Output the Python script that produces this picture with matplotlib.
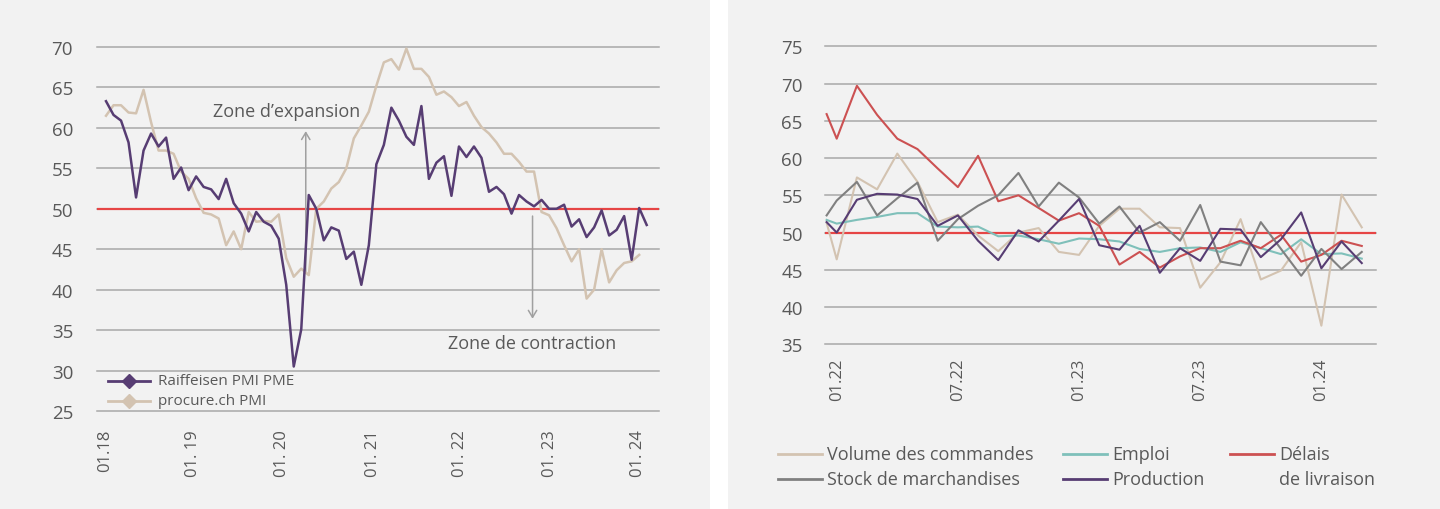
import matplotlib.pyplot as plt
from matplotlib.lines import Line2D
from matplotlib.patches import Rectangle

plt.rcParams["font.family"] = ["Open Sans", "DejaVu Sans"]

W, H = 1440, 510

# left panel: monthly PMI, index 0 = 01.2018
pmi_raiffeisen = [
    63.3, 61.6, 60.9, 58.2, 51.4, 57.2, 59.3, 57.7, 58.8, 53.7,
    55.1, 52.3, 54.0, 52.7, 52.4, 51.2, 53.7, 50.7, 49.4, 47.2,
    49.6, 48.4, 47.9, 46.3, 40.6, 30.5, 35.1, 51.7, 50.0, 46.1,
    47.7, 47.3, 43.8, 44.7, 40.6, 45.5, 55.5, 57.9, 62.5, 60.9,
    58.9, 57.9, 62.7, 53.7, 55.7, 56.5, 51.6, 57.7, 56.4, 57.7,
    56.3, 52.1, 52.7, 51.8, 49.4, 51.7, 50.9, 50.3, 51.1, 50.0,
    50.0, 50.5, 47.8, 48.7, 46.5, 47.7, 49.8, 46.7, 47.4, 49.1,
    43.7, 50.1, 48.0,
]
pmi_procure = [
    61.5, 62.8, 62.8, 61.9, 61.8, 64.7, 60.7, 57.2, 57.2, 56.8,
    54.6, 53.7, 51.3, 49.5, 49.3, 48.8, 45.5, 47.2, 45.0, 49.6,
    48.4, 48.5, 48.4, 49.3, 43.9, 41.6, 42.6, 41.8, 50.0, 50.9,
    52.5, 53.3, 55.0, 58.7, 60.3, 62.0, 65.2, 68.1, 68.5, 67.2,
    69.8, 67.3, 67.3, 66.3, 64.1, 64.5, 63.8, 62.7, 63.2, 61.5,
    60.1, 59.3, 58.2, 56.8, 56.8, 55.8, 54.6, 54.6, 49.6, 49.2,
    47.6, 45.5, 43.5, 45.0, 38.9, 40.0, 45.0, 40.9, 42.4, 43.3,
    43.5, 44.3,
]
left_tick_labels = ["01.18", "01. 19", "01. 20", "01. 21", "01. 22", "01. 23", "01. 24"]
left_tick_pos = [-0.1, 11.6, 23.5, 35.6, 47.1, 59.1, 70.9]

# right panel: sub-indices, index 0 = 01.2022
sub_months = [-0.5] + list(range(27))
volume = [51.3, 46.4, 57.4, 55.8, 60.6, 56.8, 51.4, 52.4, 49.6, 47.5, 50.0, 50.6, 47.4, 47.0,
          50.9, 53.2, 53.2, 50.7, 50.6, 42.6, 46.0, 51.8, 43.7, 44.9, 48.7, 37.5, 55.1, 50.7]
emploi = [51.7, 51.2, 51.7, 52.1, 52.6, 52.6, 50.8, 50.7, 50.8, 49.5, 49.6, 49.1, 48.5, 49.2,
          49.1, 48.8, 47.8, 47.4, 47.9, 48.0, 47.4, 48.7, 47.9, 47.1, 49.1, 47.1, 47.2, 46.5]
delais = [65.9, 62.6, 69.7, 65.8, 62.6, 61.2, 58.6, 56.1, 60.3, 54.2, 55.0, 53.3, 51.6, 52.6,
          50.9, 45.7, 47.4, 45.3, 46.8, 47.9, 47.9, 48.9, 47.9, 49.7, 46.1, 47.0, 48.9, 48.2]
stock = [52.3, 54.3, 56.8, 52.3, 54.6, 56.7, 48.9, 51.8, 53.6, 55.0, 58.0, 53.5, 56.7, 54.7,
         51.2, 53.5, 50.0, 51.4, 48.9, 53.7, 46.1, 45.6, 51.4, 47.8, 44.2, 47.8, 45.1, 47.4]
production = [51.4, 50.0, 54.4, 55.2, 55.1, 54.5, 50.9, 52.3, 48.9, 46.3, 50.3, 48.8, 51.6, 54.5,
              48.3, 47.7, 50.9, 44.6, 47.9, 46.2, 50.5, 50.4, 46.7, 49.1, 52.7, 45.2, 48.8, 45.9]
right_tick_labels = ["01.22", "07.22", "01.23", "07.23", "01.24"]
right_tick_pos = [0, 6, 12, 18, 24]

TEXT = "#595959"
GRID = "#a8a8a8"
BG = "#f2f2f2"
RED = "#e64545"
PURPLE = "#573d73"
TAN = "#d3c3b1"
TEAL = "#7fc0ba"
GREY = "#808080"
DRED = "#cc5152"

fig = plt.figure(figsize=(W / 100, H / 100), dpi=100, facecolor="white")
for x0, x1 in [(0, 710), (728, W)]:
    fig.patches.append(Rectangle((x0 / W, 0), (x1 - x0) / W, 1, transform=fig.transFigure,
                                 facecolor=BG, edgecolor="none", zorder=-10))


def setup(ax, ylo, yhi, ypad, xpad):
    ax.set_facecolor("none")
    for s in ax.spines.values():
        s.set_visible(False)
    ax.set_ylim(ylo, yhi)
    ax.set_yticks(range(ylo, yhi + 1, 5))
    ax.yaxis.grid(True, color=GRID, lw=1.1)
    for gl in ax.get_ygridlines():
        gl.set_clip_on(False)
    ax.set_axisbelow(True)
    ax.tick_params(axis="y", length=0, labelsize=13.5, labelcolor=TEXT, pad=ypad)
    ax.tick_params(axis="x", length=0, labelsize=12, labelcolor=TEXT, pad=xpad, labelrotation=90)
    ax.axhline(50, color=RED, lw=1.6, zorder=1.5)


# ---- left chart
ax1 = fig.add_axes([96.7 / W, 1 - 412 / H, (659 - 96.7) / W, (412 - 48) / H])
setup(ax1, 25, 70, 17, 13)
ax1.set_xlim(-1.24, 73.64)
ax1.set_xticks(left_tick_pos, left_tick_labels)
ax1.plot(range(len(pmi_procure)), pmi_procure, color=TAN, lw=1.8, zorder=3)
ax1.plot(range(len(pmi_raiffeisen)), pmi_raiffeisen, color=PURPLE, lw=1.8, zorder=4)

arrow = dict(arrowstyle="->,head_length=0.5,head_width=0.3", color="#a0a0a0", lw=1.1,
             shrinkA=0, shrinkB=0)
ax1.annotate("", xy=(26.6, 59.6), xytext=(26.6, 42), arrowprops=arrow, zorder=2)
ax1.annotate("", xy=(56.8, 36.4), xytext=(56.8, 49.1), arrowprops=arrow, zorder=2)
ax1.text(24.1, 62.1, "Zone d\u2019expansion", ha="center", va="center", fontsize=13, color=TEXT)
ax1.text(56.7, 33.4, "Zone de contraction", ha="center", va="center", fontsize=13, color=TEXT)

for y, label, color in [(0.0832, "Raiffeisen PMI PME", PURPLE), (0.0275, "procure.ch PMI", TAN)]:
    ax1.add_line(Line2D([0.020, 0.0574, 0.0948], [y] * 3, transform=ax1.transAxes, color=color,
                        lw=2, marker="D", ms=7.5, markevery=[1], clip_on=False))
    ax1.text(0.109, y, label, transform=ax1.transAxes, va="center", fontsize=11, color=TEXT)

# ---- right chart
ax2 = fig.add_axes([825 / W, 1 - 345.3 / H, (1375.7 - 825) / W, (345.3 - 47.3) / H])
setup(ax2, 35, 75, 16, 9.5)
ax2.set_xlim(-0.58, 26.69)
ax2.set_xticks(right_tick_pos, right_tick_labels)
series = [
    ("Volume des commandes", volume, TAN, 778, 455),
    ("Emploi", emploi, TEAL, 1063, 455),
    ("D\u00e9lais\nde livraison", delais, DRED, 1230, 455),
    ("Stock de marchandises", stock, GREY, 778, 480),
    ("Production", production, PURPLE, 1063, 480),
]
for label, values, color, lx, ly in series:
    ax2.plot(sub_months, values, color=color, lw=1.5, zorder=3)
    fig.add_artist(Line2D([lx / W, (lx + 44) / W], [1 - ly / H] * 2, transform=fig.transFigure,
                          color=color, lw=2))
    for i, part in enumerate(label.split("\n")):
        fig.text((lx + 49) / W, 1 - (ly + 25 * i) / H, part, va="center", fontsize=13, color=TEXT)

fig.savefig("out.png", dpi=100, facecolor=fig.get_facecolor())
